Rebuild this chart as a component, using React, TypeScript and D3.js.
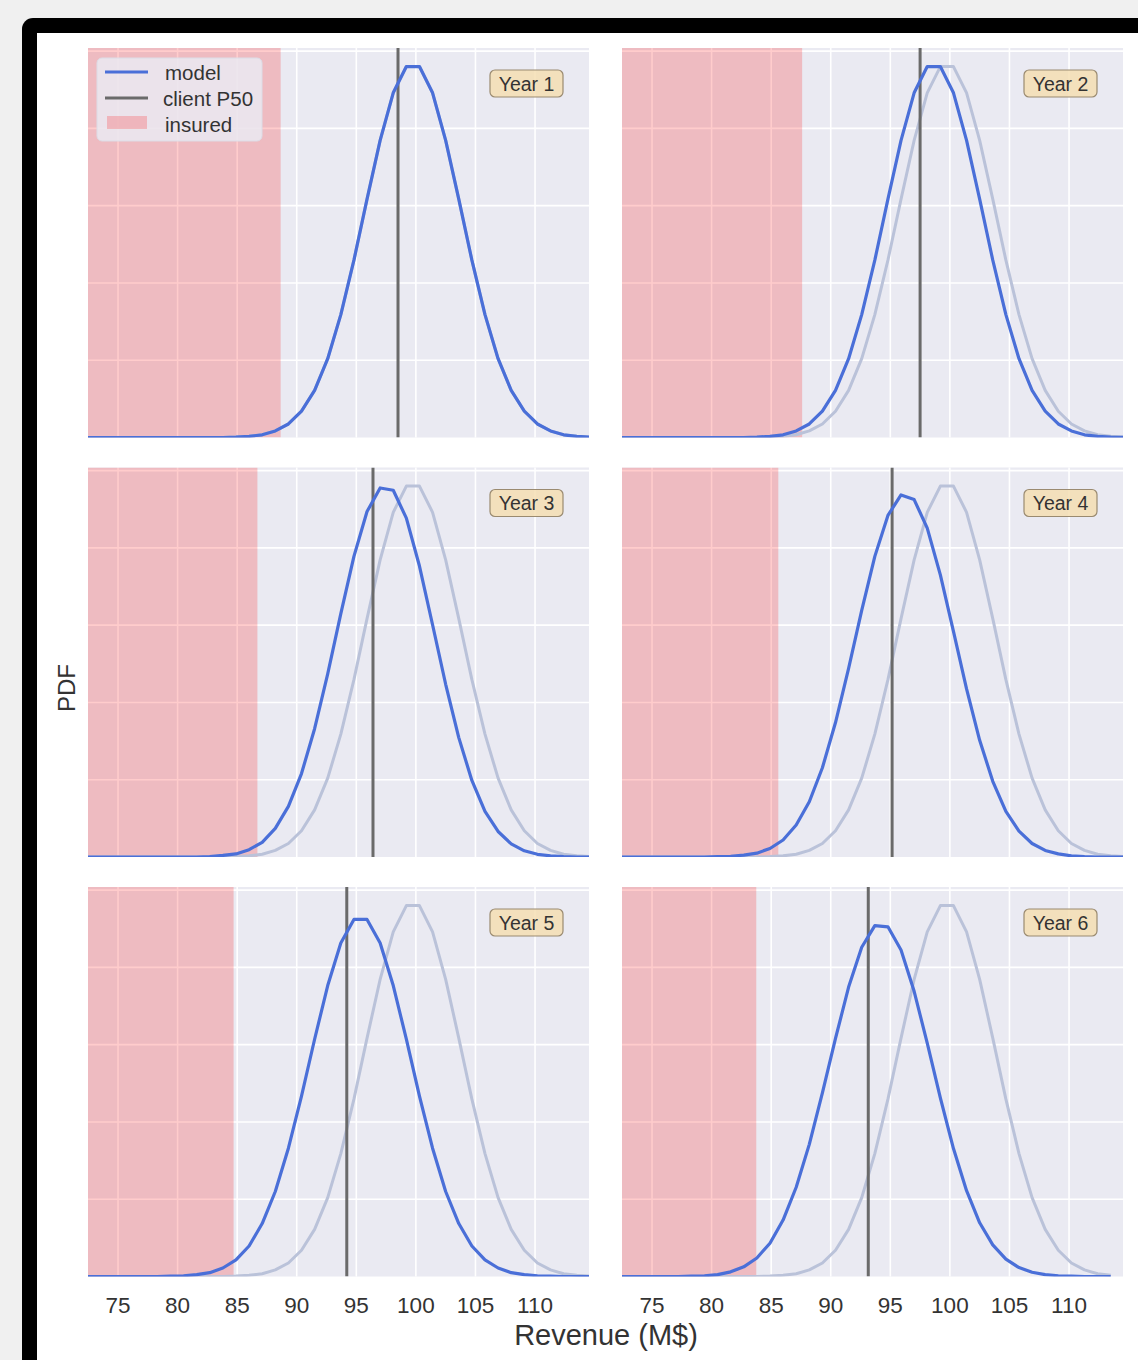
import React from 'react';
import * as d3 from 'd3';

// revenue sample points (M$) shared by every curve
const revenueGrid = [
  71.7, 72.8, 73.9, 75.0, 76.1, 77.2, 78.3, 79.4, 80.5, 81.6,
  82.7, 83.8, 84.9, 86.0, 87.1, 88.2, 89.3, 90.4, 91.5, 92.6,
  93.7, 94.8, 95.9, 97.0, 98.1, 99.2, 100.3, 101.4, 102.5, 103.6,
  104.7, 105.8, 106.9, 108.0, 109.1, 110.2, 111.3, 112.4, 113.5, 114.6,
];

// model pdf per year
const pdfYear1 = [
  0, 0, 0, 0, 0, 0, 0, 0, 0, 0,
  0, 0, 0.0001, 0.0003, 0.0007, 0.0017, 0.0035, 0.0068, 0.0122, 0.0204,
  0.0318, 0.0459, 0.0617, 0.0769, 0.0892, 0.0960, 0.0960, 0.0892, 0.0769, 0.0617,
  0.0459, 0.0318, 0.0204, 0.0122, 0.0068, 0.0035, 0.0017, 0.0007, 0.0003, 0.0001,
];
const pdfYear2 = [
  0, 0, 0, 0, 0, 0, 0, 0, 0, 0,
  0, 0.0001, 0.0003, 0.0007, 0.0017, 0.0035, 0.0068, 0.0122, 0.0204, 0.0318,
  0.0459, 0.0617, 0.0769, 0.0892, 0.0960, 0.0960, 0.0892, 0.0769, 0.0617, 0.0459,
  0.0318, 0.0204, 0.0122, 0.0068, 0.0035, 0.0017, 0.0007, 0.0003, 0.0001, 0,
];
const pdfYear3 = [
  0, 0, 0, 0, 0, 0, 0, 0, 0, 0,
  0.0001, 0.0004, 0.0008, 0.0019, 0.0038, 0.0074, 0.0131, 0.0216, 0.0332, 0.0474,
  0.0630, 0.0778, 0.0894, 0.0955, 0.0949, 0.0877, 0.0753, 0.0601, 0.0447, 0.0309,
  0.0198, 0.0118, 0.0066, 0.0034, 0.0016, 0.0007, 0.0003, 0.0001, 0, 0,
];
const pdfYear4 = [
  0, 0, 0, 0, 0, 0, 0, 0, 0.0001, 0.0002,
  0.0005, 0.0010, 0.0022, 0.0044, 0.0083, 0.0143, 0.0231, 0.0348, 0.0488, 0.0638,
  0.0778, 0.0884, 0.0937, 0.0925, 0.0851, 0.0730, 0.0584, 0.0435, 0.0302, 0.0196,
  0.0118, 0.0067, 0.0035, 0.0017, 0.0008, 0.0003, 0.0001, 0, 0, 0,
];
const pdfYear5 = [
  0, 0, 0, 0, 0, 0, 0, 0.0001, 0.0002, 0.0005,
  0.0010, 0.0022, 0.0043, 0.0079, 0.0137, 0.0220, 0.0332, 0.0467, 0.0614, 0.0753,
  0.0863, 0.0924, 0.0924, 0.0863, 0.0753, 0.0614, 0.0467, 0.0332, 0.0220, 0.0137,
  0.0079, 0.0043, 0.0022, 0.0010, 0.0005, 0.0002, 0.0001, 0, 0, 0,
];
const pdfYear6 = [
  0, 0, 0, 0, 0, 0, 0.0001, 0.0002, 0.0005, 0.0012,
  0.0025, 0.0048, 0.0086, 0.0146, 0.0231, 0.0342, 0.0475, 0.0616, 0.0749, 0.0852,
  0.0908, 0.0905, 0.0845, 0.0738, 0.0604, 0.0462, 0.0331, 0.0222, 0.0139, 0.0082,
  0.0045, 0.0023, 0.0011, 0.0005, 0.0002, 0.0001, 0, 0, 0,
];

const yearLabels = ['Year 1', 'Year 2', 'Year 3', 'Year 4', 'Year 5', 'Year 6'];
const modelByYear = [pdfYear1, pdfYear2, pdfYear3, pdfYear4, pdfYear5, pdfYear6];
const clientP50 = [98.5, 97.5, 96.4, 95.15, 94.2, 93.15];
const insuredUpTo = [88.65, 87.6, 86.7, 85.6, 84.7, 83.75];

const xTicks = [75, 80, 85, 90, 95, 100, 105, 110];
const yTicks = [0.02, 0.04, 0.06, 0.08, 0.1];

const FONT = '"Liberation Sans", Arial, Helvetica, sans-serif';
const BLUE = '#4a6fd8';
const GHOST = '#bac2d9';
const P50 = '#6a6a6a';
const TEXT = '#333333';

const panelW = 501;
const panelH = 389.5;

function Panel({ i }: { i: number }) {
  const col = i % 2;
  const row = Math.floor(i / 2);
  const left = 88 + col * 534;
  const top = 48 + row * 419.5;

  const x = d3.scaleLinear().domain([72.48, 114.53]).range([0, panelW]);
  const y = d3.scaleLinear().domain([0, 0.1008]).range([panelH, 0]);

  const model = modelByYear[i];
  const line = d3
    .line<number>()
    .x((_, k) => x(revenueGrid[k]))
    .y((d) => y(d));

  const clipId = `clip-${i}`;

  return (
    <g transform={`translate(${left},${top})`}>
      <defs>
        <clipPath id={clipId}>
          <rect x={0} y={0} width={panelW} height={panelH} />
        </clipPath>
      </defs>
      <rect x={0} y={0} width={panelW} height={panelH} fill="#eaeaf2" />
      {xTicks.map((t) => (
        <line key={`gx${t}`} x1={x(t)} x2={x(t)} y1={0} y2={panelH} stroke="#ffffff" strokeWidth={1.6} />
      ))}
      {yTicks.map((t) => (
        <line key={`gy${t}`} x1={0} x2={panelW} y1={y(t)} y2={y(t)} stroke="#ffffff" strokeWidth={1.6} />
      ))}
      <g clipPath={`url(#${clipId})`}>
        <rect
          x={0}
          y={0}
          width={x(insuredUpTo[i])}
          height={panelH}
          fill="rgb(255,0,0)"
          fillOpacity={0.2}
        />
        <path
          d={line(pdfYear1.slice(0, model.length)) || ''}
          fill="none"
          stroke={GHOST}
          strokeWidth={3}
          strokeLinejoin="round"
        />
        <line
          x1={x(clientP50[i])}
          x2={x(clientP50[i])}
          y1={0}
          y2={panelH}
          stroke={P50}
          strokeWidth={3}
        />
        <path d={line(model) || ''} fill="none" stroke={BLUE} strokeWidth={3.2} strokeLinejoin="round" />
      </g>
      <g transform={`translate(${panelW - 62.5},${35.5})`}>
        <rect x={-36.5} y={-13.5} width={73} height={27} rx={5} fill="#f5deb3" fillOpacity={0.85} stroke="#9a8a70" strokeWidth={1.2} />
        <text x={0} y={7} textAnchor="middle" fontFamily={FONT} fontSize={19.5} fill={TEXT}>
          {yearLabels[i]}
        </text>
      </g>
      {row === 2 &&
        xTicks.map((t) => (
          <text
            key={`tl${t}`}
            x={x(t)}
            y={panelH + 36.5}
            textAnchor="middle"
            fontFamily={FONT}
            fontSize={22.5}
            fill={TEXT}
          >
            {t}
          </text>
        ))}
    </g>
  );
}

function Legend() {
  return (
    <g fontFamily={FONT} fontSize={20.5} fill={TEXT}>
      <rect x={97} y={58} width={165} height={83} rx={5} fill="#eaeaf2" fillOpacity={0.85} stroke="#dcdce6" strokeWidth={1} />
      <line x1={105} x2={148} y1={72} y2={72} stroke={BLUE} strokeWidth={3} />
      <text x={165} y={80}>model</text>
      <line x1={105} x2={148} y1={98} y2={98} stroke={P50} strokeWidth={3} />
      <text x={163} y={106}>client P50</text>
      <rect x={107} y={116} width={40} height={13} fill="rgb(255,0,0)" fillOpacity={0.2} />
      <text x={165} y={132}>insured</text>
    </g>
  );
}

export default function App() {
  const W = 1138;
  const H = 1360;
  return (
    <div style={{ position: 'absolute', left: 0, top: 0 }}>
      <svg width={W} height={H} viewBox={`0 0 ${W} ${H}`}>
        <rect x={0} y={0} width={W} height={H} fill="#f0f0f0" />
        <rect x={22} y={18} width={W + 40} height={H + 40} rx={11} fill="#000000" />
        <rect x={37} y={33} width={W} height={H} fill="#ffffff" />
        {yearLabels.map((_, i) => (
          <Panel key={i} i={i} />
        ))}
        <Legend />
        <text
          x={606}
          y={1345}
          textAnchor="middle"
          fontFamily={FONT}
          fontSize={29}
          fill={TEXT}
        >
          Revenue (M$)
        </text>
        <text
          transform="translate(75,688) rotate(-90)"
          textAnchor="middle"
          fontFamily={FONT}
          fontSize={24}
          fill={TEXT}
        >
          PDF
        </text>
      </svg>
    </div>
  );
}
